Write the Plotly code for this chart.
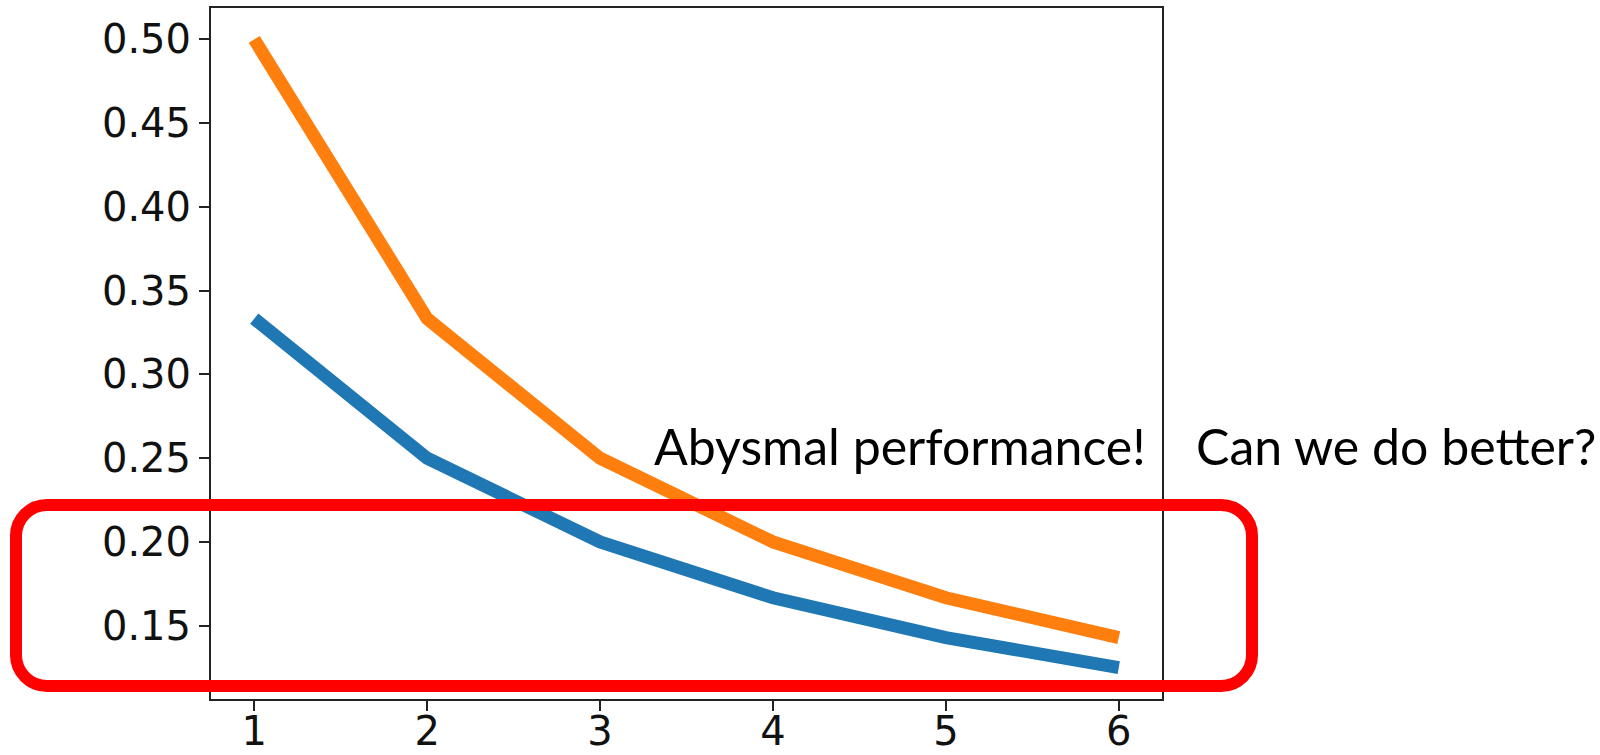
import plotly.graph_objects as go

# Series values per step
steps = [1, 2, 3, 4, 5, 6]
upper_series = [0.5, 0.3333, 0.25, 0.2, 0.1667, 0.1429]
lower_series = [0.3333, 0.25, 0.2, 0.1667, 0.1429, 0.125]
x_ticks = [1, 2, 3, 4, 5, 6]
y_ticks = [0.15, 0.20, 0.25, 0.30, 0.35, 0.40, 0.45, 0.50]

W, H = 1600, 755
L_M, R_M, T_M, B_M = 211, 438, 8, 56
plot_w = W - L_M - R_M
plot_h = H - T_M - B_M


def px(x):
    return (x - L_M) / plot_w


def py(y):
    return (H - B_M - y) / plot_h


fig = go.Figure()
fig.add_trace(go.Scatter(x=steps, y=lower_series, mode="lines",
                         line=dict(color="#1f77b4", width=13), showlegend=False))
fig.add_trace(go.Scatter(x=steps, y=upper_series, mode="lines",
                         line=dict(color="#ff7f0e", width=13), showlegend=False))

# Rounded highlight box around the low-value region
l, r_, t, b, rad = 16, 1252, 505, 686, 31
k = 0.5523 * rad


def P(x, y):
    return f"{px(x):.5f},{py(y):.5f}"


path = (
    f"M {P(l + rad, t)} L {P(r_ - rad, t)} "
    f"C {P(r_ - rad + k, t)} {P(r_, t + rad - k)} {P(r_, t + rad)} "
    f"L {P(r_, b - rad)} "
    f"C {P(r_, b - rad + k)} {P(r_ - rad + k, b)} {P(r_ - rad, b)} "
    f"L {P(l + rad, b)} "
    f"C {P(l + rad - k, b)} {P(l, b - rad + k)} {P(l, b - rad)} "
    f"L {P(l, t + rad)} "
    f"C {P(l, t + rad - k)} {P(l + rad - k, t)} {P(l + rad, t)} Z"
)
fig.add_shape(type="path", path=path, xref="paper", yref="paper",
              line=dict(color="#ff0000", width=12), layer="above")

text_font = dict(family="Lato", size=50, color="black")
fig.add_annotation(text="Abysmal performance!", xref="paper", yref="paper",
                   x=px(652), y=py(446), xanchor="left", yanchor="middle",
                   showarrow=False, font=text_font)
fig.add_annotation(text="Can we do better?", xref="paper", yref="paper",
                   x=px(1194), y=py(446), xanchor="left", yanchor="middle",
                   showarrow=False, font=text_font)

axis_common = dict(showline=True, linecolor="#222222", linewidth=2, mirror=True,
                   ticks="outside", ticklen=10, tickwidth=2, tickcolor="#222222",
                   showgrid=False, zeroline=False, automargin=False,
                   tickfont=dict(family="DejaVu Sans", size=40, color="#111111"))

fig.update_xaxes(range=[0.75, 6.25], tickvals=x_ticks, ticklabelstandoff=-14,
                 **axis_common)
fig.update_yaxes(range=[0.10625, 0.51875], tickvals=y_ticks, tickformat=".2f",
                 **axis_common)

fig.update_layout(width=W, height=H, margin=dict(l=L_M, r=R_M, t=T_M, b=B_M),
                  paper_bgcolor="white", plot_bgcolor="white")

fig.write_html("out.html")
